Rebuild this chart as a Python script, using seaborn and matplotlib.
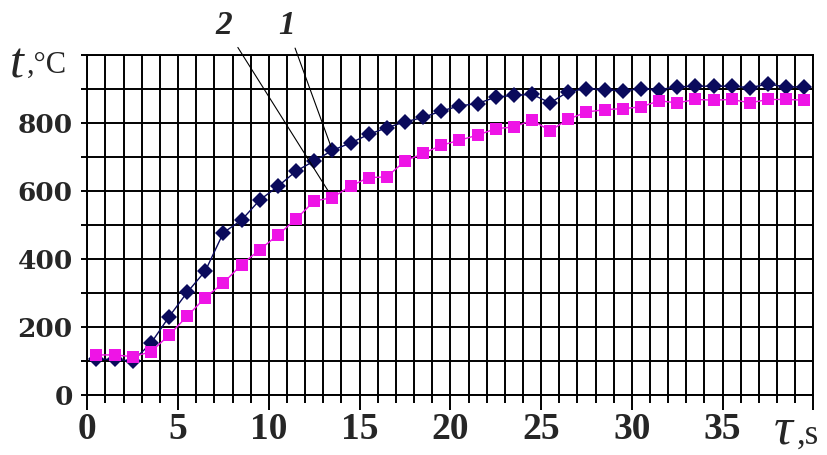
import matplotlib
matplotlib.use("Agg")
import matplotlib.pyplot as plt
from matplotlib.ticker import MultipleLocator
import seaborn as sns

# Heating time, s
time_s = [0.5, 1.5, 2.5, 3.5, 4.5, 5.5, 6.5, 7.5, 8.5, 9.5,
          10.5, 11.5, 12.5, 13.5, 14.5, 15.5, 16.5, 17.5, 18.5, 19.5,
          20.5, 21.5, 22.5, 23.5, 24.5, 25.5, 26.5, 27.5, 28.5, 29.5,
          30.5, 31.5, 32.5, 33.5, 34.5, 35.5, 36.5, 37.5, 38.5, 39.5]

# Curve 1 temperature, °C
temp_1 = [105, 105, 100, 152, 230, 302, 365, 478, 515, 574,
          614, 659, 689, 720, 742, 767, 787, 804, 817, 836,
          851, 858, 877, 882, 885, 860, 893, 902, 899, 895,
          902, 899, 907, 909, 909, 909, 905, 915, 907, 907]

# Curve 2 temperature, °C
temp_2 = [118, 118, 113, 127, 176, 232, 287, 330, 384, 428,
          471, 518, 571, 581, 615, 640, 642, 689, 711, 735,
          750, 765, 784, 789, 809, 778, 812, 833, 840, 843,
          848, 866, 860, 870, 868, 870, 860, 870, 870, 868]

curve_names = ["1", "2"]
x_tick_values = [0, 5, 10, 15, 20, 25, 30, 35, 40]
x_tick_labels = ["0", "5", "10", "15", "20", "25", "30", "35", ""]
y_tick_values = [0, 200, 400, 600, 800, 1000]
y_tick_labels = ["0", "200", "400", "600", "800", ""]

NAVY = "#0a0a5c"
MAGENTA = "#ee14e6"

sns.set_theme(style="white")
plt.rcParams["font.family"] = ["Liberation Serif", "DejaVu Serif"]

W, H = 827, 455
fig = plt.figure(figsize=(W / 100, H / 100), dpi=100)
fig.patch.set_facecolor("white")
ax = fig.add_axes([87.3 / W, 1 - 395 / H, (813.4 - 87.3) / W, (395 - 55.3) / H])

sns.lineplot(x=time_s, y=temp_1, ax=ax, color=NAVY, marker="D", markersize=8.5,
             markeredgewidth=0, linewidth=1.0, zorder=3)
sns.lineplot(x=time_s, y=temp_2, ax=ax, color=MAGENTA, marker="s", markersize=8.5,
             markeredgewidth=0, linewidth=1.0, zorder=4)

ax.set_xlim(0, 40)
ax.set_ylim(0, 1000)
ax.set_xlabel("")
ax.set_ylabel("")

ax.set_xticks(x_tick_values, labels=x_tick_labels, fontfamily="Liberation Serif",
              fontweight="bold", fontsize=27)
ax.set_yticks(y_tick_values, labels=y_tick_labels, fontfamily="DejaVu Serif",
              fontweight="bold", fontsize=19)
ax.xaxis.set_minor_locator(MultipleLocator(1))
ax.yaxis.set_minor_locator(MultipleLocator(100))

ax.grid(which="both", color="black", linewidth=1.4)
ax.set_axisbelow(True)
for sp in ax.spines.values():
    sp.set_color("black")
    sp.set_linewidth(1.4)

ax.tick_params(axis="x", which="major", direction="out", length=11, width=1.4,
               color="black", pad=1.5, bottom=True)
ax.tick_params(axis="x", which="minor", direction="out", length=6, width=1.4,
               color="black", bottom=True)
ax.tick_params(axis="y", which="both", direction="out", length=4.5, width=1.4,
               color="black", pad=6, left=True)

# Curve labels with leader lines
i13 = time_s.index(13.5)
ax.annotate(curve_names[1], xy=(time_s[i13], temp_2[i13]), xytext=(7.53, 1088),
            ha="center", va="center", fontsize=24, fontweight="bold", fontstyle="italic",
            annotation_clip=False,
            arrowprops=dict(arrowstyle="-", color="black", lw=0.8, shrinkA=3, shrinkB=6))
ax.annotate(curve_names[0], xy=(time_s[i13], temp_1[i13]), xytext=(10.99, 1088),
            ha="center", va="center", fontsize=24, fontweight="bold", fontstyle="italic",
            annotation_clip=False,
            arrowprops=dict(arrowstyle="-", color="black", lw=0.8, shrinkA=3, shrinkB=3))

# Axis titles
fig.text(17 / W, 1 - 78 / H, "t", fontsize=36, fontstyle="italic", ha="center", va="baseline")
fig.text(27 / W, 1 - 73 / H, ",°C", fontsize=22, ha="left", va="baseline")
fig.text(783 / W, 1 - 454 / H, "τ", fontsize=38, fontstyle="italic", ha="center", va="bottom")
fig.text(797 / W, 1 - 444 / H, ",s", fontsize=25, ha="left", va="baseline")

fig.savefig("out.png", dpi=100, facecolor="white")
